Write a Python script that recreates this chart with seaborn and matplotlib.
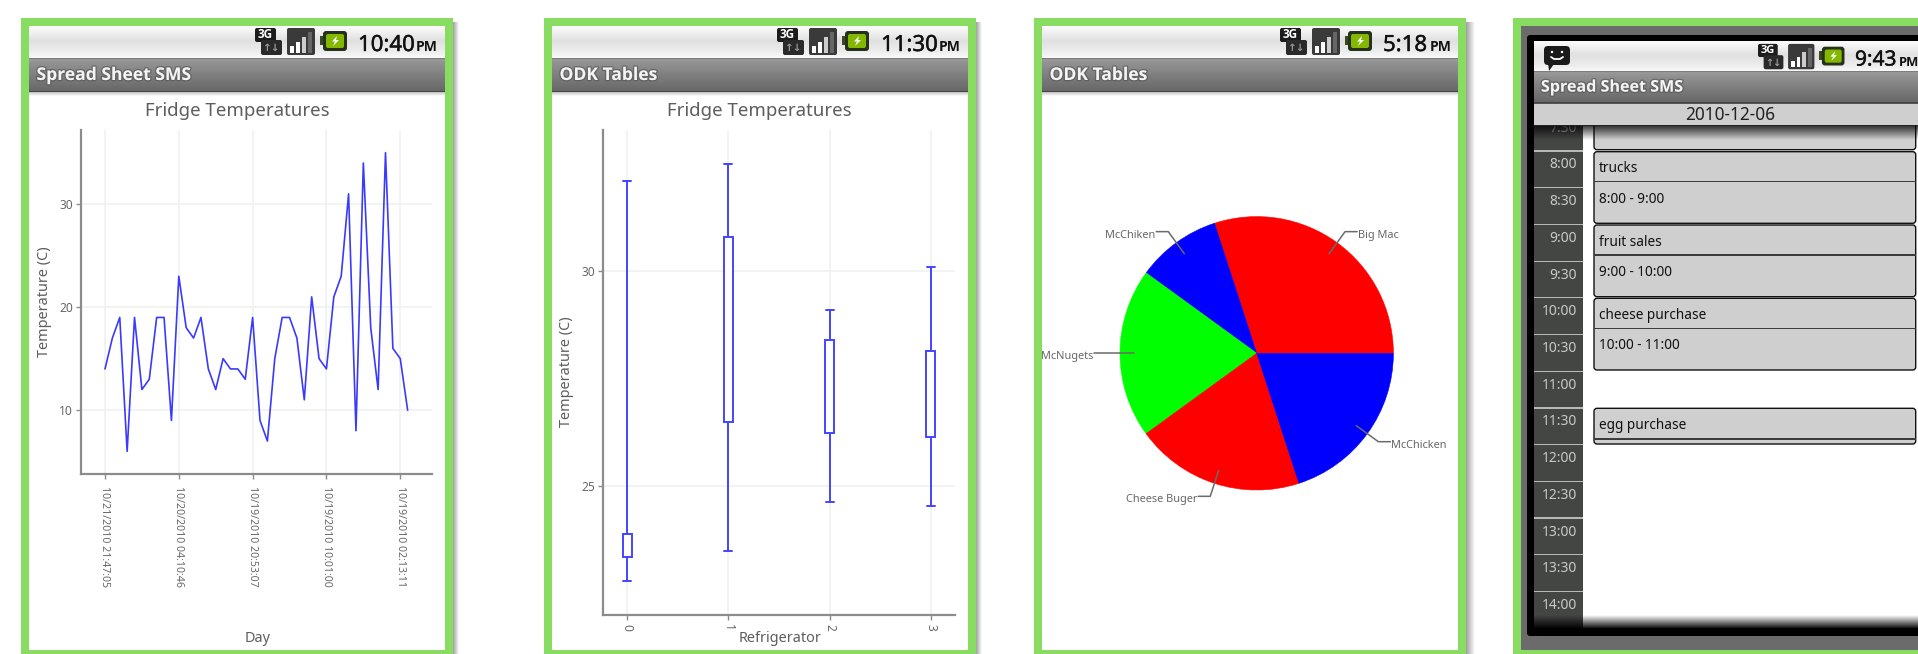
import numpy as np
import pandas as pd
import matplotlib
matplotlib.use("Agg")
import matplotlib.pyplot as plt
import matplotlib.patheffects as pe
from matplotlib.patches import Rectangle, FancyBboxPatch, Polygon, Circle
import seaborn as sns

# fridge line chart
temps = [14, 17, 19, 6, 19, 12, 13, 19, 19, 9, 23, 18, 17, 19, 14, 12, 15, 14, 14, 13, 19,
         9, 7, 15, 19, 19, 17, 11, 21, 15, 14, 21, 23, 31, 8, 34, 18, 12, 35, 16, 15, 10]
day_labels = ["10/21/2010 21:47:05", "10/20/2010 04:10:46", "10/19/2010 20:53:07",
              "10/19/2010 10:01:00", "10/19/2010 02:13:11"]

# box chart, no median is visible so it is a guess in the middle of the box
fridges = [0, 1, 2, 3]
box_low = [22.78, 23.5, 24.63, 24.53]
box_q1 = [23.35, 26.5, 26.24, 26.15]
box_med = [23.6, 28.6, 27.3, 27.1]
box_q3 = [23.89, 30.78, 28.4, 28.15]
box_high = [32.1, 32.5, 29.1, 30.1]

# pie
pie_labels = ["Big Mac", "McChiken", "McNugets", "Cheese Buger", "McChicken"]
pie_values = [30, 10, 20, 20, 20]
pie_colors = ["#ff0000", "#0000ff", "#00ff00", "#ff0000", "#0000ff"]

# calendar
cal_times = ["7:30", "8:00", "8:30", "9:00", "9:30", "10:00", "10:30", "11:00", "11:30",
             "12:00", "12:30", "13:00", "13:30", "14:00"]
cal_names = ["trucks", "fruit sales", "cheese purchase", "egg purchase"]
cal_spans = ["8:00 - 9:00", "9:00 - 10:00", "10:00 - 11:00", ""]

GREEN = "#88dc62"
BLUE = "#4444ff"
TXT = "#666866"
AXC = "#8a8d8a"
GRID = "#eff1ef"
BOLD = "Open Sans"
W, H = 1918, 654

sns.set_theme(style="white")
plt.rcParams["font.family"] = ["Noto Sans", "DejaVu Sans"]

fig = plt.figure(figsize=(W / 100, H / 100), dpi=100, facecolor="white")
bg = fig.add_axes([0, 0, 1, 1], zorder=0)
bg.set_xlim(0, W)
bg.set_ylim(H, 0)
bg.set_autoscale_on(False)
bg.axis("off")


def grad(x0, x1, y0, y1, stops, vals, z=1, alpha=None, horiz=False):
    t = np.linspace(0, 1, 64)
    g = np.interp(t, stops, vals)
    arr = np.ones((64, 1, 4))
    arr[..., 0] = arr[..., 1] = arr[..., 2] = g[:, None]
    if alpha is not None:
        arr[..., 3] = np.interp(t, stops, alpha)[:, None]
    if horiz:
        arr = arr.transpose(1, 0, 2)
    bg.imshow(arr, extent=(x0, x1, y1, y0), aspect="auto", interpolation="bilinear", zorder=z)


def rect(x0, y0, x1, y1, c, z=2, **kw):
    bg.add_patch(Rectangle((x0, y0), x1 - x0, y1 - y0, fc=c, ec="none", zorder=z, **kw))


def rbox(x0, y0, x1, y1, c, r=2, z=5, ec="none", lw=0):
    bg.add_patch(FancyBboxPatch((x0 + r, y0 + r), x1 - x0 - 2 * r, y1 - y0 - 2 * r,
                                boxstyle=f"round,pad={r},rounding_size={r}",
                                fc=c, ec=ec, lw=lw, zorder=z))


def status_bar(x0, x1, y0, clock, icon_x, clock_x, pm_x, s=1.0, z=4):
    h = 32 * s
    grad(x0, x1, y0, y0 + h, [0, 0.45, 0.8, 1], [0.99, 0.88, 0.93, 0.98], z=z)
    i = icon_x
    t = y0 + 2 * s
    # 3G
    rbox(i, t, i + 21 * s, t + 14 * s, "#1c1c1c", r=2)
    bg.text(i + 10.5 * s, t + 7 * s, "3G", color="white", fontsize=8.5 * s, fontweight="bold",
            family=BOLD, ha="center", va="center", zorder=6)
    rbox(i + 6 * s, t + 12 * s, i + 27 * s, t + 27 * s, "#2a2a2a", r=2)
    bg.text(i + 16.5 * s, t + 20 * s, "\u2191\u2193", color="#999999", fontsize=7.5 * s,
            fontweight="bold", family="DejaVu Sans", ha="center", va="center", zorder=6)
    # signal
    k = i + 32 * s
    rbox(k, t, k + 28 * s, t + 27 * s, "#3a3a3a", r=2)
    for n, bh in enumerate([7, 11, 16, 21]):
        rect(k + (3 + 6 * n) * s, t + (25 - bh) * s, k + (7 + 6 * n) * s, t + 25 * s,
             "white" if n < 2 else ("#cccccc" if n == 2 else "#666666"), z=6)
    # battery
    b = i + 65 * s
    rect(b, t + 8 * s, b + 4 * s, t + 17 * s, "#3a4a20", z=5)
    rbox(b + 3 * s, t + 3 * s, b + 27 * s, t + 23 * s, "#26301a", r=3)
    rbox(b + 6 * s, t + 6 * s, b + 24 * s, t + 20 * s, "#84b800", r=2, z=6)
    bg.add_patch(Polygon([[b + 17 * s, t + 8 * s], [b + 12 * s, t + 13.5 * s], [b + 15 * s, t + 13.5 * s],
                          [b + 13 * s, t + 18 * s], [b + 19 * s, t + 12 * s], [b + 16 * s, t + 12 * s]],
                         fc="white", ec="none", zorder=7))
    base = y0 + 25 * s
    bg.text(clock_x, base, clock, color="#111111", fontsize=16 * s, ha="left", va="baseline", zorder=6,
            path_effects=[pe.withStroke(linewidth=0.3, foreground="#111111")])
    bg.text(pm_x, base, "PM", color="#111111", fontsize=10 * s, fontweight="bold", family=BOLD,
            ha="left", va="baseline", zorder=6)


def title_bar(x0, x1, y0, name, s=1.0, z=4):
    h = 34 * s
    grad(x0, x1, y0, y0 + h, [0, 0.04, 0.1, 1], [0.45, 0.62, 0.58, 0.40], z=z)
    rect(x0, y0 + h - 1, x1, y0 + h, "#444444", z=z)
    grad(x0, x1, y0 + h, y0 + h + 4, [0, 1], [0, 0], alpha=[0.25, 0], z=z)
    bg.text(x0 + 7.5 * s, y0 + 17 * s, name, color="#f4f4f4", fontsize=12.6 * s, fontweight="bold",
            family=BOLD, ha="left", va="center", zorder=6,
            path_effects=[pe.withStroke(linewidth=2, foreground="#555555", alpha=0.6)])


def frame(x0, x1, shadow):
    rect(x0, 18, x1, H, GREEN, z=1.5)
    grad(x1, x1 + shadow, 22, H, [0, 1], [0.62, 1.0], z=1, horiz=True)
    rect(x0 + 8, 26, x1 - 8, 650, "white", z=1.6)


frame(21, 453, 6)
frame(544, 976, 6)
frame(1034, 1466, 9)
rect(1513, 18, W, H, GREEN, z=1.5)

status_bar(29, 445, 26, "10:40", 255, 358, 416)
title_bar(29, 445, 58, "Spread Sheet SMS")
status_bar(552, 968, 26, "11:30", 777, 881, 939)
title_bar(552, 968, 58, "ODK Tables")
status_bar(1042, 1458, 26, "5:18", 1280, 1383, 1430)
title_bar(1042, 1458, 58, "ODK Tables")


def make_axes(x0, y0, x1, y1):
    return fig.add_axes([x0 / W, 1 - y1 / H, (x1 - x0) / W, (y1 - y0) / H], zorder=3)


def style(ax, pad_x, size_x):
    ax.patch.set_alpha(0)
    for side in ["top", "right"]:
        ax.spines[side].set_visible(False)
    for side in ["left", "bottom"]:
        ax.spines[side].set_color(AXC)
        ax.spines[side].set_linewidth(1.6)
    ax.grid(True, color=GRID, linewidth=1.1)
    ax.set_axisbelow(True)
    ax.tick_params(axis="both", length=3.5, width=1, color=AXC, labelcolor=TXT,
                   left=True, bottom=True)
    ax.tick_params(axis="x", labelrotation=-90, pad=pad_x, labelsize=size_x)
    ax.tick_params(axis="y", pad=2.5, labelsize=8.6)
    ax.set_xlabel("")
    ax.set_ylabel("")


# line chart
ax1 = make_axes(81, 130, 432, 474)
day_index = np.arange(len(temps))
sns.lineplot(x=day_index, y=temps, color="#3a3aff", linewidth=1.2, errorbar=None, ax=ax1)
ax1.set_xlim(-3.25, 44.3)
ax1.set_ylim(3.8, 37.2)
ax1.set_xticks(day_index[::10])
ax1.set_xticklabels(day_labels)
ax1.set_yticks([10, 20, 30])
style(ax1, 5, 7.6)

# box chart
box_df = pd.DataFrame({
    "fridge": fridges * 5,
    "temp": box_low + box_q1 + box_med + box_q3 + box_high,
})
ax2 = make_axes(603, 130, 955, 615)
sns.boxplot(data=box_df, x="fridge", y="temp", width=0.086, whis=(0, 100), color="white",
            linecolor=BLUE, linewidth=1.4, capwidths=0.08, medianprops={"linewidth": 0}, ax=ax2)
ax2.set_xlim(-0.24, 3.24)
ax2.set_ylim(22, 33.28)
ax2.set_yticks([25, 30])
style(ax2, 3, 8.6)

for cx, y, txt in [(237, 110, "Fridge Temperatures"), (759, 110, "Fridge Temperatures")]:
    bg.text(cx, y + 1.5, txt, color="#5c5e5c", fontsize=13.4, ha="center", va="center", zorder=6)
for cx, y, txt in [(258, 637, "Day"), (780, 637, "Refrigerator")]:
    bg.text(cx, y + 1, txt, color="#5c5e5c", fontsize=10.4, ha="center", va="center", zorder=6)
for cx, y, txt in [(45, 302, "Temperature (C)"), (567, 372, "Temperature (C)")]:
    bg.text(cx, y, txt, color="#5c5e5c", fontsize=10.4, rotation=90, ha="center", va="center", zorder=6)

# pie
R = 136.7
ax3 = make_axes(1256.7 - R, 353.3 - R, 1256.7 + R, 353.3 + R)
wedges, _ = ax3.pie(pie_values, colors=pie_colors, startangle=0, counterclock=True, radius=1)
ax3.set_xlim(-1, 1)
ax3.set_ylim(-1, 1)
for w, name in zip(wedges, pie_labels):
    w.set_edgecolor(w.get_facecolor())
    w.set_linewidth(0.4)
    a = np.deg2rad((w.theta1 + w.theta2) / 2)
    ca, sa = np.cos(a), np.sin(a)
    side = 1 if ca >= 0 else -1
    ex, ey = 1.1 * ca, 1.1 * sa
    tx = ex + side * 0.088
    ax3.plot([0.9 * ca, ex, tx], [0.9 * sa, ey, ey], color="#6a6a6a", lw=1.1, clip_on=False, zorder=5)
    ax3.text(tx + side * 0.005, ey - 0.025, name, color=TXT, fontsize=7.9,
             ha="left" if side > 0 else "right", va="center", clip_on=False)

# calendar screen, 0.94 scale of the other screens
rect(1521, 26, W, 650, "#6b6b6b", z=1.6)
rbox(1527, 35, W + 20, 636, "#000000", r=3, z=1.7)
rect(1534, 42, W, 628, "white", z=1.8)
rect(1534, 110, 1583, 628, "#444644", z=1.9)
ROW = 36.7
for n, t in enumerate(cal_times):
    top = 114.3 + n * ROW
    if n:
        rect(1534, top - 0.6, 1583, top + 0.6, "#b8b8b8", z=2)
    bg.text(1577, top + 14, t, color="#c8c8c8", fontsize=10, ha="right", va="center", zorder=2.1)

ev_tops = [151.7, 225, 298.3, 408.3]
ev_bots = [223.3, 296.7, 370, 444]
ev_divs = [181.7, 255, 328.3, 439]
rbox(1594, 100, 1915.7, 149.7, "#cfcfcf", r=3, z=2, ec="#111111", lw=1)
for name, span, top, bot, dv in zip(cal_names, cal_spans, ev_tops, ev_bots, ev_divs):
    rbox(1594, top, 1915.7, bot, "#cfcfcf", r=3, z=2, ec="#111111", lw=1)
    rect(1594, dv - 0.6, 1915.7, dv + 0.6, "#3c3c3c", z=2.2)
    bg.text(1599, top + 17, name, color="#111111", fontsize=9.8, ha="left", va="center", zorder=3)
    if span:
        bg.text(1599, dv + 17.5, span, color="#111111", fontsize=9.8, ha="left", va="center", zorder=3)

grad(1534, W, 126, 140, [0, 1], [0, 0], alpha=[0.75, 0], z=2.6)
grad(1534, W, 615, 629, [0, 1], [0, 0], alpha=[0, 1], z=2.6)

rect(1534, 42, W, 72, "white", z=3.0)
status_bar(1534, W, 42, "9:43", 1758, 1855, 1899, s=0.94)
title_bar(1534, W, 72, "Spread Sheet SMS", s=0.92)
rect(1534, 103, W, 126, "#cfcfcf", z=4)
rect(1534, 103, W, 104, "#555555", z=4.1)
rect(1534, 125, W, 126, "#222222", z=4.1)
bg.text(1730, 115.5, "2010-12-06", color="#222222", fontsize=12.4, ha="center", va="center", zorder=6)
# message icon
rbox(1544, 46, 1570, 65, "#1a1a1a", r=4)
bg.add_patch(Polygon([[1548, 63], [1554, 64], [1549, 71]], fc="#1a1a1a", ec="none", zorder=5))
bg.add_patch(Circle((1552, 52), 1.2, fc="white", ec="none", zorder=6))
bg.add_patch(Circle((1562, 52), 1.2, fc="white", ec="none", zorder=6))
bg.plot([1551, 1554, 1560, 1563], [57, 59, 59, 57], color="white", lw=1.3, zorder=6)

fig.savefig("out.png", dpi=100)
